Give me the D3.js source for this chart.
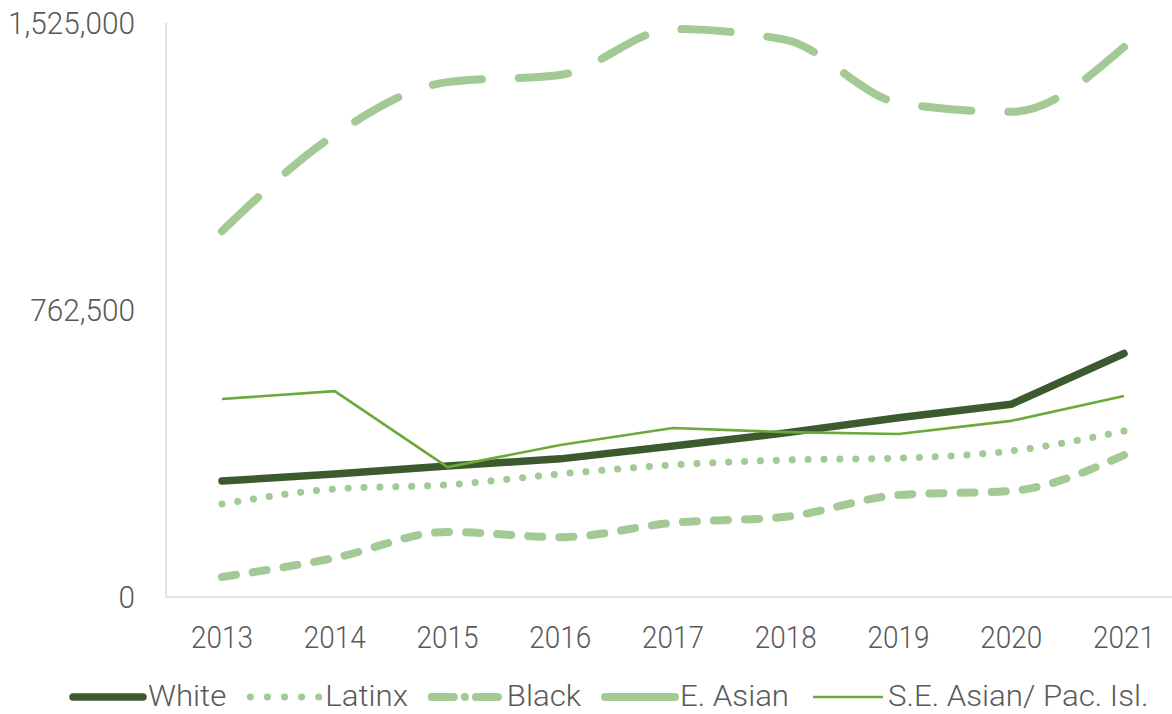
<!DOCTYPE html>
<html><head><meta charset="utf-8">
<script src="https://cdn.jsdelivr.net/npm/d3@7"></script>
<style>
body{margin:0;background:#fff;}
text{font-family:"Roboto","Open Sans",sans-serif;font-weight:300;fill:#595959;}
</style></head>
<body><svg id="c" width="1172" height="714"></svg>
<script>
const years = [2013,2014,2015,2016,2017,2018,2019,2020,2021];
const white  = [308000,327000,348000,367000,401000,436000,476000,512000,647000];
const latinx = [247000,287000,298000,327000,351000,364000,369000,388000,441000];
const black  = [53000,104000,173000,159000,197000,213000,271000,282000,377000];
const eAsian = [972000,1228000,1368000,1387000,1509000,1480000,1313000,1289000,1461000];
const seAsian= [526000,547000,345000,404000,449000,438000,433000,468000,534000];
const yTicks = [0,762500,1525000];

const svg = d3.select("#c");
const L=166, R=1172, T=23, B=597;
const FS = 31;
const x = d3.scalePoint().domain(years).range([222,1124]);
const y = d3.scaleLinear().domain([0,1525000]).range([B,T]);

svg.append("line").attr("x1",L).attr("x2",L).attr("y1",T).attr("y2",B).attr("stroke","#d9d9d9").attr("stroke-width",1.5);
svg.append("line").attr("x1",L).attr("x2",R).attr("y1",B).attr("y2",B).attr("stroke","#d9d9d9").attr("stroke-width",1.5);

function label(px,py,txt,anchor,sx,fs,dy){
  return svg.append("text").attr("transform",`translate(${px},${py}) scale(${sx},1)`)
    .attr("dy",dy||"0.35em").attr("text-anchor",anchor).attr("font-size",fs).text(txt);
}
const fmt = d3.format(",");
yTicks.forEach(d=>label(135,y(d),fmt(d),"end",0.96,FS));
years.forEach(d=>label(x(d),637,String(d),"middle",0.9,FS));

const series = [
  {name:"White", vals:white, color:"#3d5a2e", w:7.5, dash:null, curve:d3.curveLinear, legendDash:null},
  {name:"Latinx", vals:latinx, color:"#a3c995", w:7, dash:[0.1,15.7], curve:d3.curveMonotoneX, legendDash:"0.1,17"},
  {name:"Black", vals:black, color:"#a3c995", w:8, dash:[14,17], curve:d3.curveMonotoneX, legendDash:"22,11,0.1,11"},
  {name:"E. Asian", vals:eAsian, color:"#a3c995", w:8, dash:[48,36], curve:d3.curveMonotoneX, legendDash:null},
  {name:"S.E. Asian/ Pac. Isl.", vals:seAsian, color:"#6aaa3a", w:2.6, dash:null, curve:d3.curveLinear, legendDash:null}
];
const drawOrder = [3,1,2,0,4];
drawOrder.forEach(i=>{
  const s = series[i];
  const line = d3.line().x((d,j)=>x(years[j])).y(d=>y(d)).curve(s.curve);
  const p = svg.append("path").attr("d",line(s.vals)).attr("fill","none")
    .attr("stroke",s.color).attr("stroke-width",s.w)
    .attr("stroke-linecap",s.name.startsWith("S.E")?"butt":"round")
    .attr("stroke-linejoin","round");
  if(s.dash){
    const len = p.node().getTotalLength();
    const per = s.dash[0]+s.dash[1];
    const n = Math.max(1,Math.round((len - s.dash[0])/per));
    const k = len/(n*per + s.dash[0]);
    p.attr("stroke-dasharray", s.dash.map(v=>v*k).join(","));
  }
});

// legend
let lx = 73;
const ly = 697;
series.forEach(s=>{
  const sw = 70;
  svg.append("line").attr("x1",lx).attr("x2",lx+sw).attr("y1",ly).attr("y2",ly)
    .attr("stroke",s.color).attr("stroke-width",s.w)
    .attr("stroke-linecap",s.name.startsWith("S.E")?"butt":"round")
    .attr("stroke-dasharray",s.legendDash);
  const t = label(lx+sw+5,ly,s.name,"start",1.04,30,"0.3em");
  lx = lx+sw+5+t.node().getComputedTextLength()*1.04+24;
});
</script></body></html>
